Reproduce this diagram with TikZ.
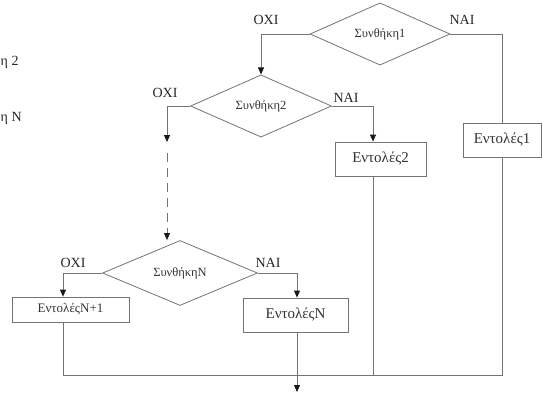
\documentclass[tikz,border=0pt]{standalone}
\usepackage{fontspec}
\setmainfont{Liberation Serif}
\usetikzlibrary{shapes.geometric,arrows.meta}
\begin{document}
\begin{tikzpicture}[x=1pt,y=-1pt,
  line/.style={draw=black!55, line width=0.8pt},
  arr/.style={line, -{Triangle[length=7pt,width=6pt,color=black!90]}},
  cond/.style={diamond, draw=black!55, line width=0.8pt, inner sep=0pt,
    font=\fontsize{12.5}{14}\selectfont, text=black!80},
  act/.style={rectangle, draw=black!55, line width=0.8pt, inner sep=0pt,
    font=\fontsize{15}{17}\selectfont, text=black!80},
  lbl/.style={font=\fontsize{14}{16}\selectfont, text=black!85, inner sep=0pt}
]
\useasboundingbox (0,0) rectangle (543,393);

% decisions
\node[cond, minimum width=140pt, minimum height=55pt] (S1) at (380,34) {Συνθήκη1};
\node[cond, minimum width=141pt, minimum height=54pt] (S2) at (261,106) {Συνθήκη2};
\node[cond, minimum width=155pt, minimum height=54pt] (SN) at (180,273) {ΣυνθήκηN};

% actions
\node[act, minimum width=78pt, minimum height=34pt] (E1) at (502,140) {Εντολές1};
\node[act, minimum width=91pt, minimum height=34pt] (E2) at (380.5,159) {Εντολές2};
\node[act, minimum width=105pt, minimum height=34pt] (EN) at (295.5,315) {ΕντολέςN};
\node[act, minimum width=117pt, minimum height=25pt, font=\fontsize{13}{15}\selectfont] (EN1) at (70.5,309.5) {ΕντολέςN+1};

% branch labels
\node[lbl] (o1) at (266,20) {OXI};
\node[lbl] (n1) at (462,20) {NAI};
\node[lbl] (o2) at (165,93) {OXI};
\node[lbl] (n2) at (346,98) {NAI};
\node[lbl] (oN) at (73,263) {OXI};
\node[lbl] (nN) at (268,263) {NAI};

% text at the left edge
\node[lbl, anchor=west] (t2) at (0.5,62) {η 2};
\node[lbl, anchor=west] (tN) at (0.5,118) {η N};

% vertical line positions
\coordinate (x2) at (373,0);
\coordinate (xN) at (297,0);
\coordinate (xL) at (63,0);
\coordinate (d1) at (167,142);
\coordinate (d2) at (167,153);
\coordinate (busL) at (63,375);
\coordinate (busR) at (502,375);
\coordinate (out) at (297,392);

% connectors
\draw[arr] (S1.west) -| (S2.north);
\draw[line] (S1.east) -| (E1.north);
\draw[arr] (S2.west) -| (d1);
\draw[arr, dash pattern=on 9pt off 6pt] (d2) -- (d2 |- SN.north);
\draw[arr] (S2.east) -| (x2 |- E2.north);
\draw[arr] (SN.west) -| (xL |- EN1.north);
\draw[arr] (SN.east) -| (xN |- EN.north);

\draw[line] (xL |- EN1.south) -- (busL) -- (busR) -- (E1.south);
\draw[line] (x2 |- E2.south) -- (x2 |- busR);
\draw[arr] (xN |- EN.south) -- (out);
\end{tikzpicture}
\end{document}
